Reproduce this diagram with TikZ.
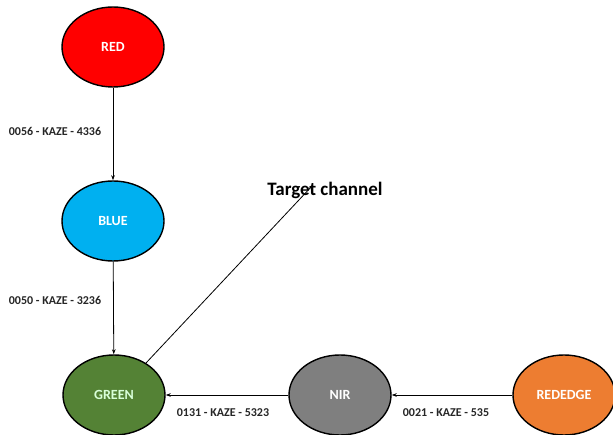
\documentclass[tikz,border=0pt]{standalone}
\usepackage{fontspec}
\setmainfont{Carlito}
\usetikzlibrary{shapes.geometric,arrows.meta}
\definecolor{cred}{HTML}{FF0000}
\definecolor{cblue}{HTML}{00B0F0}
\definecolor{cgreen}{HTML}{548235}
\definecolor{cgray}{HTML}{7F7F7F}
\definecolor{corange}{HTML}{ED7D31}
\begin{document}
\begin{tikzpicture}[x=1pt,y=-1pt,
  chan/.style={ellipse,draw=black,line width=1.4pt,minimum width=102pt,minimum height=80pt,inner sep=0pt,text=white,font=\bfseries\fontsize{14}{16}\selectfont},
  conn/.style={-{Stealth[length=5pt,width=3.5pt]},line width=0.8pt},
  lbl/.style={font=\bfseries\fontsize{12}{14}\selectfont,text=black!85}]
\useasboundingbox (0,0) rectangle (613,435);
\node[chan,fill=cred] (red) at (113,47) {RED};
\node[chan,fill=cblue] (blue) at (113,221) {BLUE};
\node[chan,fill=cgreen,text=green!15] (green) at (114,395) {GREEN};
\node[chan,fill=cgray] (nir) at (340,395) {NIR};
\node[chan,fill=corange] (rededge) at (564,395) {REDEDGE};
\node[font=\bfseries\fontsize{19}{22}\selectfont] (target) at (325,190) {Target channel};
\coordinate (tend) at (313,185);
\draw[conn] (red) -- (blue);
\draw[conn] (blue) -- (green);
\draw[conn] (nir) -- (green);
\draw[conn] (rededge) -- (nir);
\draw[conn] (green.45) -- (tend);
\node[lbl] (l1) at (55,131) {0056 - KAZE - 4336};
\node[lbl] (l2) at (55,300) {0050 - KAZE - 3236};
\node[lbl] (l3) at (223,413) {0131 - KAZE - 5323};
\node[lbl] (l4) at (446,413) {0021 - KAZE - 535};
\end{tikzpicture}
\end{document}
